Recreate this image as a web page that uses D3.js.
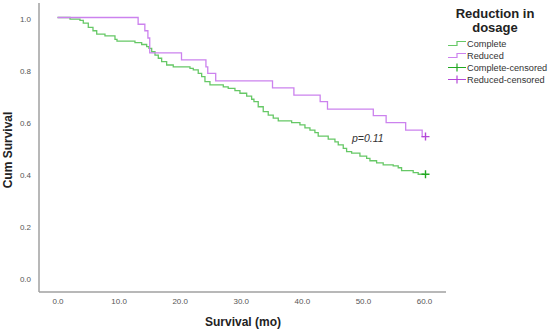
<!DOCTYPE html>
<html>
<head>
<meta charset="utf-8">
<script src="https://cdn.jsdelivr.net/npm/d3@7"></script>
<style>
  body { margin: 0; background: #fff; }
  text { font-family: "Liberation Sans", Arial, sans-serif; }
</style>
</head>
<body>
<div id="chart"></div>
<script>
// Kaplan-Meier steps (months, cum survival)
var completeTimes = [2.05, 3.68, 4.22, 5.04, 5.81, 6.42, 7.77, 9.41, 9.74, 12.68, 13.78, 14.6, 14.98, 15.42, 15.96, 16.5, 17.05, 17.87, 18.95, 21.69, 22.23, 23.04, 23.6, 24.14, 24.96, 27.14, 27.95, 29.05, 29.87, 30.97, 31.78, 32.16, 32.86, 33.68, 34.5, 35.32, 36.14, 38.33, 39.69, 40.51, 41.33, 42.14, 42.68, 44.32, 45.42, 45.96, 46.78, 47.33, 48.15, 49.51, 50.61, 51.15, 52.24, 53.32, 54.96, 55.78, 56.33, 58.23, 59.05]
var completeSurv = [0.994, 0.989, 0.978, 0.962, 0.949, 0.936, 0.929, 0.916, 0.909, 0.903, 0.896, 0.888, 0.881, 0.868, 0.855, 0.843, 0.83, 0.817, 0.81, 0.804, 0.798, 0.785, 0.772, 0.753, 0.74, 0.733, 0.727, 0.718, 0.708, 0.697, 0.685, 0.676, 0.656, 0.637, 0.624, 0.612, 0.602, 0.595, 0.586, 0.575, 0.566, 0.556, 0.543, 0.531, 0.521, 0.509, 0.496, 0.483, 0.477, 0.466, 0.457, 0.448, 0.44, 0.432, 0.428, 0.421, 0.41, 0.402, 0.396]

var reducedTimes = [13.2, 14.3, 14.8, 15.1, 20.3, 24.3, 24.6, 25.9, 35.2, 38.7, 43.0, 44.2, 51.7, 53.8, 57.0, 59.7]
var reducedSurv = [0.974, 0.949, 0.921, 0.864, 0.837, 0.81, 0.785, 0.756, 0.729, 0.701, 0.676, 0.647, 0.622, 0.595, 0.566, 0.541]

var censorTime = 60
var xTicks = [0, 10, 20, 30, 40, 50, 60]
var yTicks = [0, 0.2, 0.4, 0.6, 0.8, 1.0]
var legendLabels = ["Complete", "Reduced", "Complete-censored", "Reduced-censored"]

var width = 550, height = 331
var green = "#66c866", purple = "#cc82ee"
var greenDark = "#22a822", purpleDark = "#b448d8"

var svg = d3.select("#chart")
  .append("svg")
  .attr("width", width)
  .attr("height", height)

var x = d3.scaleLinear().domain([0, 60]).range([57.5, 424])
var y = d3.scaleLinear().domain([0, 1]).range([277, 17.5])

// axis lines
svg.append("line")
  .attr("x1", 39).attr("x2", 39).attr("y1", 3).attr("y2", 292)
  .attr("stroke", "#a0a0a0").attr("stroke-width", 1.5)
svg.append("line")
  .attr("x1", 39).attr("x2", 446).attr("y1", 292).attr("y2", 292)
  .attr("stroke", "#a0a0a0").attr("stroke-width", 1.5)

var xAxis = svg.append("g")
  .attr("transform", "translate(0,295)")
  .call(d3.axisBottom(x).tickValues(xTicks).tickSize(0).tickFormat(d3.format(".1f")))
xAxis.select(".domain").remove()
xAxis.selectAll("text").attr("font-size", 8).attr("fill", "#555")
  .style("font-family", "'Liberation Sans', Arial, sans-serif")

var yAxis = svg.append("g")
  .attr("transform", "translate(34,1.5)")
  .call(d3.axisLeft(y).tickValues(yTicks).tickSize(0).tickFormat(d3.format(".1f")))
yAxis.select(".domain").remove()
yAxis.selectAll("text").attr("font-size", 8).attr("fill", "#555")
  .style("font-family", "'Liberation Sans', Arial, sans-serif")

// axis titles
svg.append("text")
  .attr("x", 243).attr("y", 326)
  .attr("text-anchor", "middle")
  .attr("font-size", 12).attr("font-weight", "bold").attr("fill", "#222")
  .text("Survival (mo)")

svg.append("text")
  .attr("transform", "translate(12,150) rotate(-90)")
  .attr("text-anchor", "middle")
  .attr("font-size", 12).attr("font-weight", "bold").attr("fill", "#222")
  .text("Cum Survival")

// curves
function steps(times, surv) {
  var pts = [[0, 1]]
  times.forEach(function(t, i) { pts.push([t, surv[i]]) })
  pts.push([censorTime, surv[surv.length - 1]])
  return pts
}

var line = d3.line()
  .x(function(d) { return x(d[0]) })
  .y(function(d) { return y(d[1]) })
  .curve(d3.curveStepAfter)

svg.append("path")
  .datum(steps(completeTimes, completeSurv))
  .attr("d", line)
  .attr("fill", "none").attr("stroke", green).attr("stroke-width", 1.3)

svg.append("path")
  .datum(steps(reducedTimes, reducedSurv))
  .attr("d", line)
  .attr("fill", "none").attr("stroke", purple).attr("stroke-width", 1.3)

// censor marks
function censor(t, s, color) {
  var cx = x(t) + 1.5, cy = y(s)
  svg.append("path")
    .attr("d", "M" + (cx - 4) + "," + cy + "H" + (cx + 4) + "M" + cx + "," + (cy - 4) + "V" + (cy + 4))
    .attr("stroke", color).attr("stroke-width", 1.4)
}
censor(censorTime, completeSurv[completeSurv.length - 1], greenDark)
censor(censorTime, reducedSurv[reducedSurv.length - 1], purpleDark)

// p value
svg.append("text")
  .attr("x", 352).attr("y", 142)
  .attr("font-size", 10.5).attr("font-style", "italic").attr("fill", "#333")
  .text("p=0.11")

// legend
var legend = svg.append("g")
svg.append("text")
  .attr("x", 495).attr("y", 18)
  .attr("text-anchor", "middle")
  .attr("font-size", 13).attr("font-weight", "bold").attr("fill", "#222")
  .text("Reduction in")
svg.append("text")
  .attr("x", 495).attr("y", 32)
  .attr("text-anchor", "middle")
  .attr("font-size", 13).attr("font-weight", "bold").attr("fill", "#222")
  .text("dosage")

var legendColors = [green, purple, greenDark, purpleDark]
legendLabels.forEach(function(lbl, i) {
  var ly = 43.5 + i * 12
  var c = legendColors[i]
  if (i < 2) {
    legend.append("path")
      .attr("d", "M448," + (ly + 2) + "H457V" + (ly - 2) + "H466")
      .attr("fill", "none").attr("stroke", c).attr("stroke-width", 1.2)
  } else {
    legend.append("path")
      .attr("d", "M448," + ly + "H466M457," + (ly - 4) + "V" + (ly + 4))
      .attr("fill", "none").attr("stroke", c).attr("stroke-width", 1.2)
  }
  legend.append("text")
    .attr("x", 467).attr("y", ly + 3.5)
    .attr("font-size", 9.2).attr("fill", "#333")
    .text(lbl)
})
</script>
</body>
</html>
